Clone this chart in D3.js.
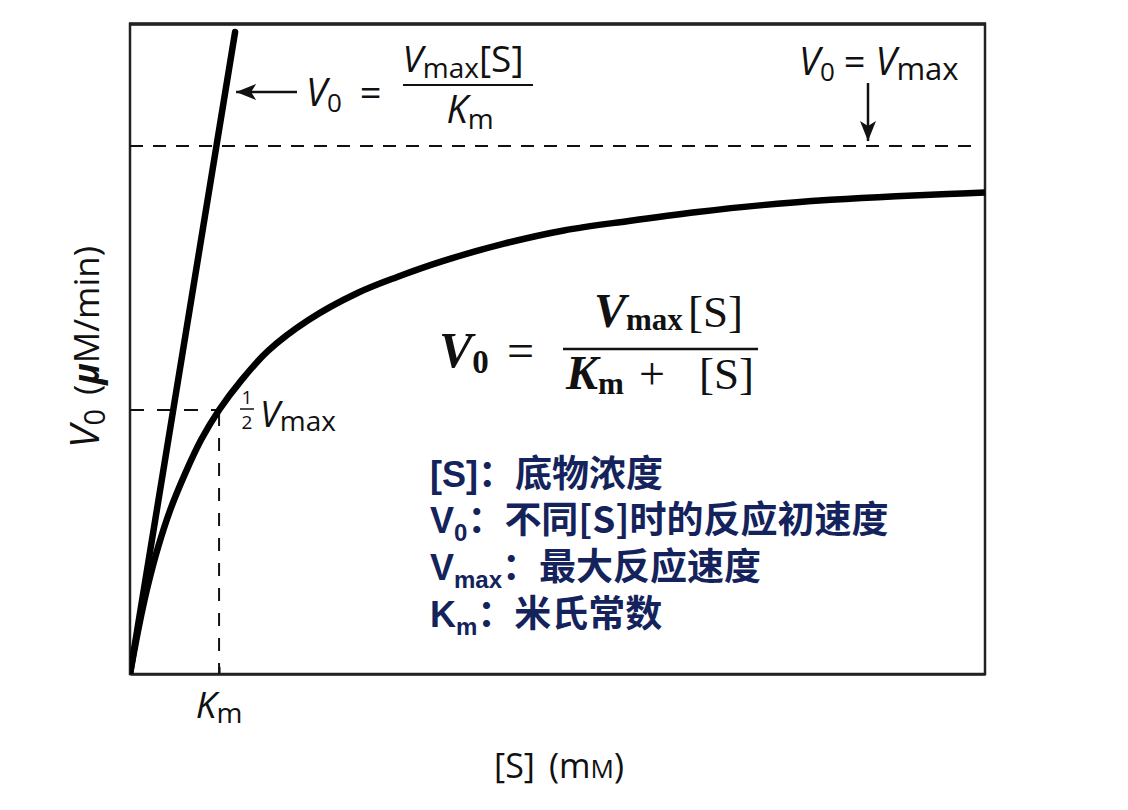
<!DOCTYPE html>
<html><head><meta charset="utf-8">
<script src="https://cdn.jsdelivr.net/npm/d3@7"></script>
<style>body{margin:0;background:#fff}</style>
</head><body><svg id="c" width="1128" height="810"></svg>
<script>
// ---- data ----
const substrate = [0, 0.1, 0.2, 0.315, 0.45, 0.62, 0.8, 1.0, 1.25, 1.55, 2.0, 2.56, 3.0, 3.51, 4.2, 4.87, 5.6, 6.37, 7.1, 7.87, 8.6, 9.18, 9.6];
const velocity  = [0, 0.09, 0.167, 0.24, 0.31, 0.38, 0.444, 0.5, 0.556, 0.612, 0.67, 0.722, 0.752, 0.782, 0.815, 0.84, 0.858, 0.875, 0.888, 0.898, 0.905, 0.909, 0.912];
const lineSubstrate = [0, 1.18];
const lineVelocity  = [0, 1.216];
const Km = 1, Vmax = 1;
const xDomain = [0, 9.6];
const yDomain = [0, 1.231];
const legendTerms = ["[S]", "V", "V", "K"];
const legendSubs  = ["", "0", "max", "m"];
const legendDefs  = ["底物浓度", "不同[S]时的反应初速度", "最大反应速度", "米氏常数"];

const svg = d3.select("#c");
const L = 130, R = 985, T = 24, B = 674;
const x = d3.scaleLinear().domain(xDomain).range([L, R]);
const y = d3.scaleLinear().domain(yDomain).range([B, T]);

const SANS = "'Open Sans', 'DejaVu Sans', sans-serif";
const SERIF = "'Liberation Serif', 'DejaVu Serif', serif";
const INK = "#111";

const defs = svg.append("defs");
defs.append("clipPath").attr("id","plot")
  .append("rect").attr("x",L).attr("y",T).attr("width",R-L).attr("height",B-T);
defs.append("clipPath").attr("id","plot2")
  .append("rect").attr("x",L).attr("y",0).attr("width",R-L).attr("height",B);
defs.append("marker").attr("id","ah").attr("viewBox","0 0 20 16").attr("refX",20).attr("refY",8)
  .attr("markerWidth",20).attr("markerHeight",16).attr("markerUnits","userSpaceOnUse").attr("orient","auto")
  .append("path").attr("d","M0,0 L20,8 L0,16 L5,8 Z").attr("fill",INK);

// frame
svg.append("rect").attr("x",L).attr("y",T).attr("width",R-L).attr("height",B-T)
  .attr("fill","none").attr("stroke","#222").attr("stroke-width",2.5);
svg.append("line").attr("x1",L-1).attr("x2",R+1).attr("y1",T).attr("y2",T).attr("stroke","#222").attr("stroke-width",3.5);

// bottom axis with Km tick
const ax = svg.append("g").attr("transform",`translate(0,${B})`)
  .call(d3.axisBottom(x).tickValues([Km]).tickSizeInner(-7).tickSizeOuter(0).tickFormat(""));
ax.select(".domain").attr("stroke","#222").attr("stroke-width",2.5);
ax.selectAll(".tick line").attr("stroke","#222").attr("stroke-width",2);

// dashed guides
const g = svg.append("g");
g.append("line").attr("x1",x(0)).attr("x2",x(9.5)).attr("y1",y(Vmax)).attr("y2",y(Vmax))
  .attr("stroke",INK).attr("stroke-width",2).attr("stroke-dasharray","13,10");
g.append("line").attr("x1",x(0)).attr("x2",x(Km)).attr("y1",y(Vmax/2)).attr("y2",y(Vmax/2))
  .attr("stroke",INK).attr("stroke-width",2).attr("stroke-dasharray","14,13");
g.append("line").attr("x1",x(Km)).attr("x2",x(Km)).attr("y1",y(Vmax/2)+3).attr("y2",y(0))
  .attr("stroke",INK).attr("stroke-width",2).attr("stroke-dasharray","13,12");

// curves
const curvePts = substrate.map((s,i)=>[s, velocity[i]]);
const linePts = lineSubstrate.map((s,i)=>[s, lineVelocity[i]]);
const lineGen = d3.line().x(d=>x(d[0])).y(d=>y(d[1])).curve(d3.curveCatmullRom.alpha(0.5));
svg.append("g").attr("clip-path","url(#plot)")
  .append("path").datum(curvePts).attr("d",lineGen).attr("fill","none").attr("stroke","#000").attr("stroke-width",6.5);
svg.append("path").datum(linePts).attr("d",d3.line().x(d=>x(d[0])).y(d=>y(d[1])))
  .attr("fill","none").attr("stroke","#000").attr("stroke-width",6.5).attr("stroke-linecap","round")
  .attr("clip-path","url(#plot2)");

// rich text helper: one <text>, tspans; s.x / s.y start a new line/position, s.dy is a baseline offset
function rich(parent, px, py, segs, o={}) {
  const t = parent.append("text").attr("x",px).attr("y",py)
    .attr("font-family",o.ff||SANS).attr("fill",o.fill||INK)
    .attr("text-anchor",o.anchor||"start");
  if (o.fw) t.attr("font-weight",o.fw);
  let base = py, cur = py;
  segs.forEach(s=>{
    const ts = t.append("tspan").text(s.t).attr("font-size",s.fs);
    if (s.y !== undefined) base = s.y;
    const target = base + (s.dy||0);
    if (s.y !== undefined) ts.attr("y", target); else ts.attr("dy", target-cur);
    cur = target;
    if (s.x !== undefined) ts.attr("x", s.x);
    if (s.it) ts.attr("font-style","italic");
    if (s.fw) ts.attr("font-weight",s.fw);
    if (s.ff) ts.attr("font-family",s.ff);
    if (s.dx) ts.attr("dx",s.dx);
  });
  return t;
}

// top-left: arrow + V0 = Vmax[S]/Km
const tipX = x(lineSubstrate[1]) + 1;
svg.append("line").attr("x1",297).attr("x2",tipX).attr("y1",92).attr("y2",92)
  .attr("stroke",INK).attr("stroke-width",2.5).attr("marker-end","url(#ah)");
rich(svg, 306, 106, [{t:"V",fs:38,it:1},{t:"0",fs:26,dy:6},{t:" =",fs:38,dx:8}]);
rich(svg, 463, 72, [{t:"V",fs:37,it:1},{t:"max",fs:28,dy:6},{t:"[S]",fs:37}], {anchor:"middle"});
svg.append("line").attr("x1",403).attr("x2",533).attr("y1",85).attr("y2",85).attr("stroke",INK).attr("stroke-width",2);
rich(svg, 470, 123, [{t:"K",fs:38,it:1},{t:"m",fs:28,dy:6}], {anchor:"middle"});

// top-right: V0 = Vmax with down arrow
rich(svg, 799, 75, [{t:"V",fs:38,it:1},{t:"0",fs:26,dy:6},{t:"=",fs:38,dx:9},{t:"V",fs:38,it:1,dx:10},{t:"max",fs:31,dy:5}]);
svg.append("line").attr("x1",868).attr("x2",868).attr("y1",83).attr("y2",y(Vmax)-5)
  .attr("stroke",INK).attr("stroke-width",2.5).attr("marker-end","url(#ah)");

// 1/2 Vmax label
rich(svg, 247, 404, [{t:"1",fs:19},{t:"2",fs:19,x:247,y:429}], {anchor:"middle"});
svg.append("line").attr("x1",240).attr("x2",254).attr("y1",409).attr("y2",409).attr("stroke",INK).attr("stroke-width",1.5);
rich(svg, 260, 427, [{t:"V",fs:36,it:1},{t:"max",fs:28,dy:4}]);

// Km label
rich(svg, x(Km), 718, [{t:"K",fs:37,it:1},{t:"m",fs:28,dy:5}], {anchor:"middle"});

// axis titles
rich(svg, 559, 778, [{t:"[S]",fs:34},{t:"(m",fs:34,dx:14},{t:"M",fs:26},{t:")",fs:34}], {anchor:"middle"});
const yl = svg.append("g").attr("transform","translate(99,347) rotate(-90)");
rich(yl, 0, 0, [{t:"V",fs:41,it:1},{t:"0",fs:29,dy:6},{t:"(",fs:35,dx:14},{t:"μ",fs:35,it:1,fw:"bold"},{t:"M/min)",fs:35}], {anchor:"middle"});

// central formula (serif)
rich(svg, 439, 367, [{t:"V",fs:50,it:1,fw:"bold"},{t:"0",fs:33,fw:"bold",dy:6},{t:"=",fs:48,x:507}], {ff:SERIF});
svg.append("line").attr("x1",563).attr("x2",758).attr("y1",349).attr("y2",349).attr("stroke",INK).attr("stroke-width",2.5);
rich(svg, 594, 327, [{t:"V",fs:48,it:1,fw:"bold"},{t:"max",fs:31,fw:"bold",dy:3},{t:"[S]",fs:45,x:688}], {ff:SERIF});
rich(svg, 566, 389, [{t:"K",fs:48,it:1,fw:"bold"},{t:"m",fs:31,fw:"bold",dy:5},{t:"+",fs:46,x:639},{t:"[S]",fs:45,x:699}], {ff:SERIF});

// legend: one text element, one line per term
const LF = "'Liberation Sans', Arial, sans-serif";
const CJK = "'Noto Sans CJK SC', sans-serif";
const baseY = [487, 533, 580, 627];
const legendSegs = [];
legendTerms.forEach((term,i)=>{
  legendSegs.push({t:term,fs:36,x:430,y:baseY[i]});
  if (legendSubs[i]) legendSegs.push({t:legendSubs[i],fs:24,dy:8});
  legendSegs.push({t:"：",fs:37,ff:CJK});
  legendSegs.push({t:legendDefs[i],fs:37,ff:CJK});
});
rich(svg, 430, baseY[0], legendSegs, {ff:LF, fill:"#14235c", fw:"bold"});
</script></body></html>
